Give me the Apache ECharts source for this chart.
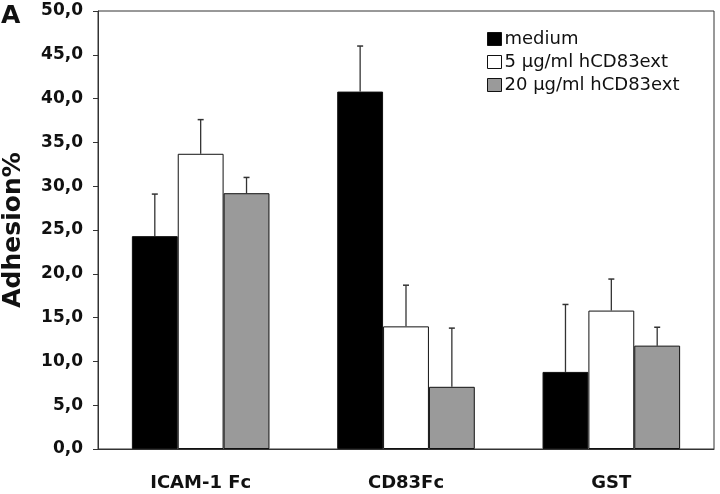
<!DOCTYPE html>
<html><head><meta charset="utf-8">
<script src="https://cdn.jsdelivr.net/npm/echarts@6/dist/echarts.min.js"></script>
<style>html,body{margin:0;padding:0;background:#fff}#c{width:720px;height:494px}</style>
</head><body><div id="c"></div>
<script>
var categories = ['ICAM-1 Fc', 'CD83Fc', 'GST'];
var seriesNames = ['medium', '5 µg/ml hCD83ext', '20 µg/ml hCD83ext'];
var medium = [24.3, 40.8, 8.8];
var low = [33.7, 14.0, 15.8];
var high = [29.2, 7.1, 11.8];
var mediumErr = [4.8, 5.2, 7.7];
var lowErr = [3.9, 4.7, 3.6];
var highErr = [1.8, 6.7, 2.1];
var yTicks = ['0,0','5,0','10,0','15,0','20,0','25,0','30,0','35,0','40,0','45,0','50,0'];

var values = [medium, low, high];
var errs = [mediumErr, lowErr, highErr];
var colors = ['#000000', '#ffffff', '#9a9a9a'];
var catGap = 0.33;
var FONT = '"DejaVu Sans", "Liberation Sans", Arial';

var chart = echarts.init(document.getElementById('c'));
var series = [];
values.forEach(function (v, i) {
  series.push({
    name: seriesNames[i], type: 'bar', data: v,
    barGap: '0%', barCategoryGap: (catGap * 100) + '%',
    itemStyle: { color: colors[i], borderColor: '#111', borderWidth: 1 },
    silent: true
  });
});
values.forEach(function (v, i) {
  var data = v.map(function (val, k) { return [k, val, val + errs[i][k]]; });
  series.push({
    type: 'custom', silent: true, z: 1,
    data: data,
    renderItem: function (params, api) {
      var band = api.size([1, 0])[0];
      var bw = band * (1 - catGap) / 3;
      var c0 = api.coord([api.value(0), api.value(1)]);
      var c1 = api.coord([api.value(0), api.value(2)]);
      var x = c0[0] + (i - 1) * bw;
      return {
        type: 'group',
        children: [
          { type: 'line', shape: { x1: x, y1: c0[1], x2: x, y2: c1[1] }, style: { stroke: '#333', lineWidth: 1.3 } },
          { type: 'line', shape: { x1: x - 3, y1: c1[1], x2: x + 3, y2: c1[1] }, style: { stroke: '#333', lineWidth: 1.5 } }
        ]
      };
    }
  });
});

chart.setOption({
  animation: false,
  backgroundColor: '#fff',
  grid: { left: 98, right: 6, top: 11, bottom: 45, show: true, borderColor: '#333', borderWidth: 1,
          backgroundColor: 'transparent', containLabel: false, outerBoundsMode: 'none' },
  legend: {
    data: seriesNames, orient: 'vertical', left: 482, top: 25, itemWidth: 14, itemHeight: 13, itemGap: 5,
    icon: 'rect',
    textStyle: { fontFamily: FONT, fontSize: 18, color: '#111', padding: [0, 0, 0, -2] },
    itemStyle: { borderColor: '#111', borderWidth: 1 }
  },
  xAxis: {
    type: 'category', data: categories,
    axisLine: { lineStyle: { color: '#333', width: 1 } },
    axisTick: { show: false },
    axisLabel: { fontFamily: FONT, fontWeight: 'bold', fontSize: 18, color: '#111', margin: 25 }
  },
  yAxis: {
    type: 'value', min: 0, max: 50, interval: 5,
    name: 'Adhesion%', nameLocation: 'middle', nameGap: 72, nameRotate: 90,
    nameTextStyle: { fontFamily: FONT, fontWeight: 'bold', fontSize: 25, color: '#111' },
    axisLine: { show: true, lineStyle: { color: '#333', width: 1 } },
    axisTick: { show: true, length: 5, lineStyle: { color: '#333' } },
    splitLine: { show: false },
    axisLabel: {
      fontFamily: FONT, fontWeight: 'bold', fontSize: 17, color: '#111', margin: 15,
      formatter: function (val) { return yTicks[Math.round(val / 5)]; }
    }
  },
  graphic: [{ type: 'text', left: 1, top: 4, style: { text: 'A', font: 'bold 25px "DejaVu Sans", Arial', fill: '#111' } }],
  series: series
});
</script></body></html>
